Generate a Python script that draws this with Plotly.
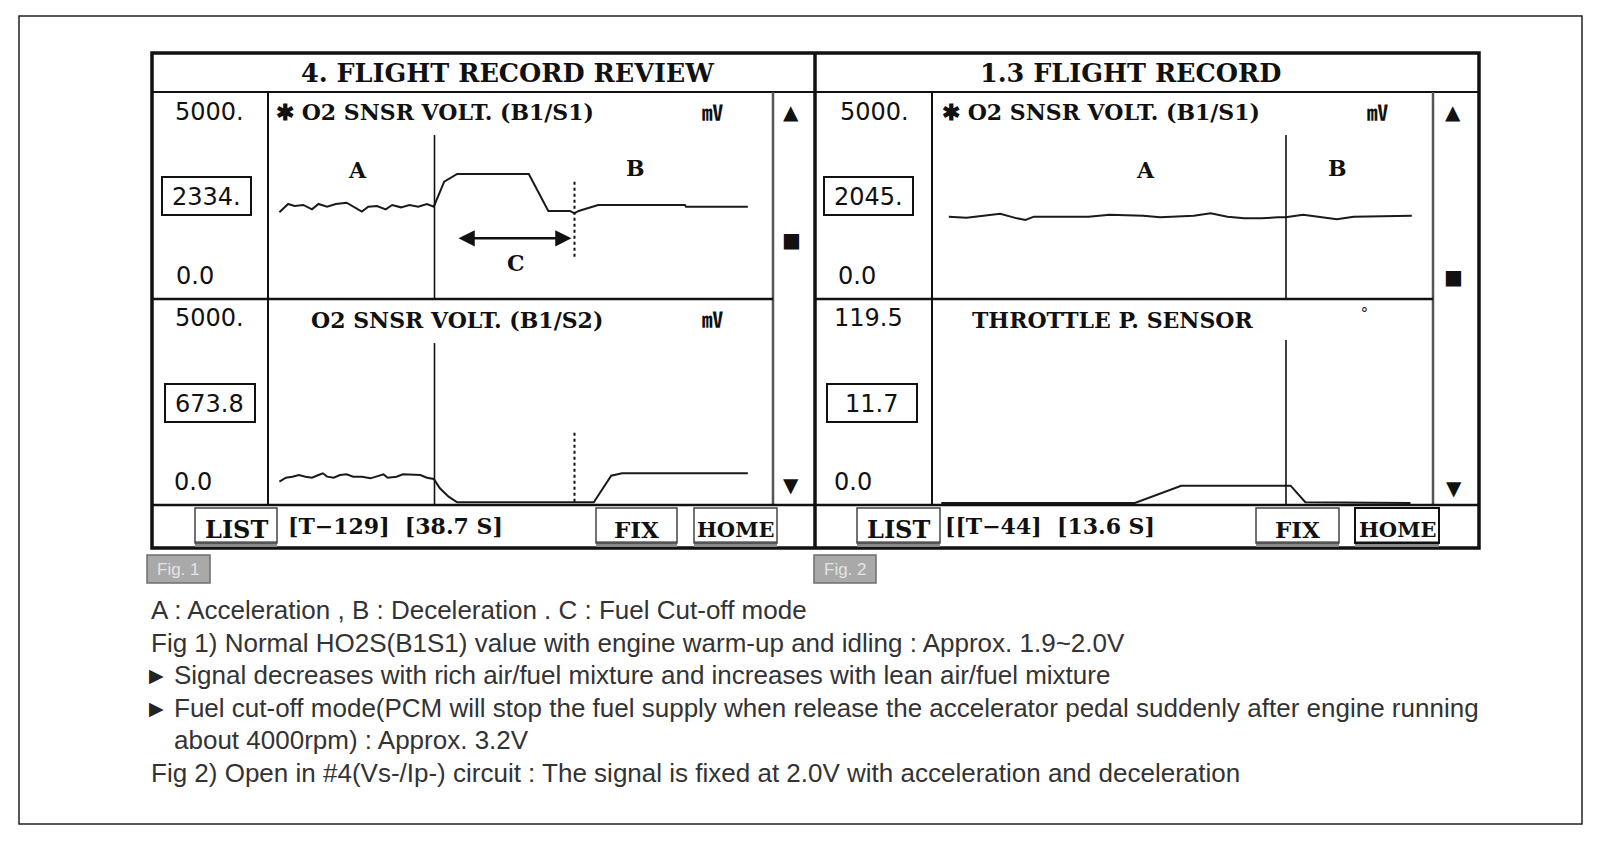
import plotly.graph_objects as go

# page geometry (body has an 8px default margin, so the paper is offset by 8px)
OFF = 8
FW, FH = 1584, 825

# ---------------- data (time in s, values in mV / deg) ----------------
fig1_s1_t = [1.14, 2.01, 2.66, 3.53, 4.40, 5.05, 5.91, 6.78, 7.86, 8.52, 9.38, 10.03, 10.90, 11.77,
             12.42, 13.29, 14.15, 15.02, 15.89, 16.58, 17.62, 18.92, 26.08, 28.03, 30.20, 30.63,
             31.06, 33.02, 41.69, 41.80, 47.98]
fig1_s1_v = [2094, 2295, 2246, 2271, 2166, 2295, 2230, 2295, 2327, 2230, 2110, 2230, 2246, 2166,
             2271, 2214, 2271, 2230, 2295, 2230, 2834, 3019, 3019, 2126, 2126, 2069,
             2126, 2271, 2271, 2230, 2230]

fig1_s2_t = [1.14, 1.79, 2.44, 3.09, 3.75, 4.40, 5.05, 5.48, 5.91, 6.56, 7.21, 7.86, 8.52, 9.38,
             10.25, 10.90, 11.55, 11.98, 12.85, 13.50, 14.37, 15.24, 15.89, 16.58, 17.19, 18.06,
             18.92, 32.58, 34.32, 35.40, 47.98]
fig1_s2_v = [566, 663, 688, 728, 688, 663, 728, 769, 688, 663, 728, 744, 688, 688,
             647, 688, 744, 663, 688, 744, 728, 728, 663, 631, 405, 202,
             65, 65, 712, 769, 769]

fig2_s1_t = [1.68, 3.45, 5.14, 6.82, 8.50, 9.34, 10.19, 11.87, 13.55, 15.66, 17.76, 19.44, 21.13,
             22.81, 24.50, 26.18, 27.86, 29.55, 31.23, 32.91, 34.60, 35.35, 37.12, 38.80, 40.49,
             42.17, 44.70, 47.98]
fig2_s1_v = [1989, 1965, 2013, 2061, 1948, 1908, 1989, 1989, 1997, 1989, 2037, 2029, 2013,
             1973, 1989, 2013, 2069, 1989, 1948, 1948, 1973, 1973, 2037, 1989, 1924,
             1989, 2005, 2013]

fig2_tps_t = [0.93, 20.29, 24.92, 35.86, 37.33, 47.85]
fig2_tps_v = [1.2, 1.2, 11.2, 11.2, 1.6, 1.2]

fig1_cursor_t = 16.65
fig1_fuelcut_end_t = 30.65
fig2_cursor_t = 35.4

fig1_values = ["2334.", "673.8"]
fig2_values = ["2045.", "11.7"]
fig1_status = "[T\u2212129]  [38.7 S]"
fig2_status = "[[T\u221244]  [13.6 S]"

notes = [
    "A : Acceleration , B : Deceleration . C : Fuel Cut-off mode",
    "Fig 1) Normal HO2S(B1S1) value with engine warm-up and idling : Approx. 1.9~2.0V",
    "Signal decreases with rich air/fuel mixture and increases with lean air/fuel mixture",
    "Fuel cut-off mode(PCM will stop the fuel supply when release the accelerator pedal suddenly after engine running",
    "about 4000rpm) : Approx. 3.2V",
    "Fig 2) Open in #4(Vs-/Ip-) circuit : The signal is fixed at 2.0V with acceleration and deceleration",
]

# ---------------- helpers (page pixel -> paper) ----------------
def X(p):
    return (p - OFF) / FW

def Y(p):
    return 1 - (p - OFF) / FH

shapes = []
annotations = []

def rect(x0, y0, x1, y1, color="#111", width=2, fill=None):
    shapes.append(dict(type="rect", xref="paper", yref="paper", x0=X(x0), x1=X(x1), y0=Y(y1), y1=Y(y0),
                       line=dict(color=color, width=width), fillcolor=fill, layer="above"))

def hline(x0, x1, y, color="#111", width=2):
    shapes.append(dict(type="line", xref="paper", yref="paper", x0=X(x0), x1=X(x1), y0=Y(y), y1=Y(y),
                       line=dict(color=color, width=width), layer="above"))

def vline(x, y0, y1, color="#111", width=2):
    shapes.append(dict(type="line", xref="paper", yref="paper", x0=X(x), x1=X(x), y0=Y(y0), y1=Y(y1),
                       line=dict(color=color, width=width), layer="above"))

def txt(x, y, s, size, family="DejaVu Serif", color="#111", xanchor="center", yanchor="middle"):
    annotations.append(dict(x=X(x), y=Y(y), xref="paper", yref="paper", text=s, showarrow=False,
                            font=dict(size=size, family=family, color=color),
                            xanchor=xanchor, yanchor=yanchor))

SLAB = "DejaVu Serif"
SANS = "Liberation Sans"
NUM = "DejaVu Sans"
SYM = "DejaVu Sans"
CJK = "Noto Sans CJK KR"

# ---------------- figure / axes ----------------
fig = go.Figure()
LINE = dict(color="#1a1a1a", width=2)
fig.add_trace(go.Scatter(x=fig1_s1_t, y=fig1_s1_v, mode="lines", line=LINE, xaxis="x", yaxis="y"))
fig.add_trace(go.Scatter(x=fig1_s2_t, y=fig1_s2_v, mode="lines", line=LINE, xaxis="x2", yaxis="y2"))
fig.add_trace(go.Scatter(x=fig2_s1_t, y=fig2_s1_v, mode="lines", line=LINE, xaxis="x3", yaxis="y3"))
fig.add_trace(go.Scatter(x=fig2_tps_t, y=fig2_tps_v, mode="lines", line=LINE, xaxis="x4", yaxis="y4"))

P1 = dict(l=152, r=815, val=268, plot=773)
P2 = dict(l=815, r=1479, val=932, plot=1433)
TOP, TITLE_B, MID, BTN_T, BOT = 53, 92, 299, 505, 548

ax_common = dict(visible=False, showgrid=False, zeroline=False, fixedrange=True)
up_dom = [Y(MID), Y(TITLE_B)]
lo_dom = [Y(BTN_T), Y(MID)]
p1_dom = [X(P1["val"]), X(P1["plot"])]
p2_dom = [X(P2["val"]), X(P2["plot"])]

fig.update_layout(
    xaxis=dict(domain=p1_dom, range=[0, 50.5], anchor="y", **ax_common),
    yaxis=dict(domain=up_dom, range=[0, 5000], anchor="x", **ax_common),
    xaxis2=dict(domain=p1_dom, range=[0, 50.5], anchor="y2", **ax_common),
    yaxis2=dict(domain=lo_dom, range=[0, 5000], anchor="x2", **ax_common),
    xaxis3=dict(domain=p2_dom, range=[0, 50.1], anchor="y3", **ax_common),
    yaxis3=dict(domain=up_dom, range=[0, 5000], anchor="x3", **ax_common),
    xaxis4=dict(domain=p2_dom, range=[0, 50.1], anchor="y4", **ax_common),
    yaxis4=dict(domain=lo_dom, range=[0, 119.5], anchor="x4", **ax_common),
)

# ---------------- outer frame ----------------
rect(19, 16, 1582, 824, color="#222", width=1.5)

# ---------------- panel frames ----------------
for P in (P1, P2):
    hline(P["l"], P["r"], TITLE_B, width=2)
    vline(P["val"], TITLE_B, BTN_T, width=2)
    vline(P["plot"], TITLE_B, BTN_T, color="#555", width=2.5)
    hline(P["l"], P["plot"], MID, width=2.5)
    hline(P["l"], P["r"], BTN_T, width=2.5)
rect(P1["l"], TOP, P2["r"], BOT, color="#111", width=3.5)
vline(815, TOP, BOT, width=3.5)

# titles
txt(507, 73, "<b>4. FLIGHT RECORD REVIEW</b>", 25.5, SLAB)
txt(1130, 73, "<b>1.3 FLIGHT RECORD</b>", 25.5, SLAB)

# value column texts
def value_col(top_lbl, box_lbl, y_top, y_box, y_zero, box_x0, box_x1, zero_x, top_x):
    txt(top_x, y_top, top_lbl, 24, NUM)
    rect(box_x0, y_box - 19, box_x1, y_box + 19, color="#111", width=2, fill="white")
    txt((box_x0 + box_x1) / 2, y_box + 1, box_lbl, 24, NUM)
    txt(zero_x, y_zero, "0.0", 24, NUM)

value_col("5000.", fig1_values[0], 112, 196, 276, 162, 251, 195, 209)
value_col("5000.", fig1_values[1], 318, 403, 482, 165, 255, 193, 209)
value_col("5000.", fig2_values[0], 112, 196, 276, 824, 913, 857, 874)
value_col("119.5", fig2_values[1], 318, 403, 482, 827, 917, 853, 868)

# chart titles
txt(274, 112, "<b>\u2731 O2 SNSR VOLT. (B1/S1)</b>", 22, SLAB, xanchor="left")
txt(712, 111, "<b>\u33b7</b>", 21, CJK)
txt(309, 320, "<b>O2 SNSR VOLT. (B1/S2)</b>", 22, SLAB, xanchor="left")
txt(712, 318, "<b>\u33b7</b>", 21, CJK)
txt(940, 112, "<b>\u2731 O2 SNSR VOLT. (B1/S1)</b>", 22, SLAB, xanchor="left")
txt(1377, 111, "<b>\u33b7</b>", 21, CJK)
txt(970, 320, "<b>THROTTLE P. SENSOR</b>", 22, SLAB, xanchor="left")
txt(1364, 314, "\u00b0", 17, SANS)

# scroll column symbols
txt(791, 112, "\u25b2", 20, SYM)
txt(791, 240, "\u25a0", 20, SYM)
txt(791, 485, "\u25bc", 20, SYM)
txt(1453, 112, "\u25b2", 20, SYM)
txt(1453, 277, "\u25a0", 20, SYM)
txt(1454, 488, "\u25bc", 20, SYM)

# buttons
def button(x0, x1, label, size=23, dark=False):
    shapes.append(dict(type="rect", xref="paper", yref="paper", x0=X(x0), x1=X(x1), y0=Y(547), y1=Y(541),
                       line=dict(width=0), fillcolor="#8a8a8a", layer="above"))
    rect(x0, 508, x1, 543, color="#111" if dark else "#444", width=2 if dark else 1.5)
    txt((x0 + x1) / 2, 529, "<b>%s</b>" % label, size, SLAB)

button(195, 277, "LIST", 24)
button(596, 677, "FIX", 23)
button(694, 777, "HOME", 21)
button(857, 940, "LIST", 24)
button(1256, 1339, "FIX", 23)
button(1355, 1439, "HOME", 21, dark=True)
txt(286, 526, "<b>%s</b>" % fig1_status, 22, SLAB, xanchor="left")
txt(943, 526, "<b>%s</b>" % fig2_status, 22, SLAB, xanchor="left")

# fig labels
for x0, x1, lab in ((147, 210, "Fig. 1"), (814, 876, "Fig. 2")):
    rect(x0, 555, x1, 583, color="#6e6e6e", width=1.5, fill="#a9a9a9")
    txt((x0 + x1) / 2, 569, lab, 17, SANS, color="#e4e4e4")

# ---------------- cursors & markers in data coords ----------------
def dline(xr, yr, x, y0, y1, dash="solid", width=1.6):
    shapes.append(dict(type="line", xref=xr, yref=yr, x0=x, x1=x, y0=y0, y1=y1,
                       line=dict(color="#111", width=width, dash=dash)))

dline("x", "y", fig1_cursor_t, 0, 3960)
dline("x2", "y2", fig1_cursor_t, 0, 3930)
dline("x3", "y3", fig2_cursor_t, 0, 3960)
dline("x4", "y4", fig2_cursor_t, 0, 95.7)
dline("x", "y", fig1_fuelcut_end_t, 1020, 2840, dash="dot", width=2)
dline("x2", "y2", fig1_fuelcut_end_t, 80, 1780, dash="dot", width=2)

# arrow C
annotations.append(dict(x=fig1_fuelcut_end_t - 0.3, y=1466, ax=18.9, ay=1466, xref="x", yref="y",
                        axref="x", ayref="y", text="", showarrow=True, arrowhead=2, startarrowhead=2,
                        arrowside="end+start", arrowsize=1.3, startarrowsize=1.3, arrowwidth=2.5,
                        arrowcolor="#111"))

def dtxt(xr, yr, x, y, s):
    annotations.append(dict(x=x, y=y, xref=xr, yref=yr, text="<b>%s</b>" % s, showarrow=False,
                            font=dict(size=22, family=SLAB, color="#111")))

dtxt("x", "y", 8.95, 3116, "A")
dtxt("x", "y", 36.7, 3164, "B")
dtxt("x", "y", 24.8, 862, "C")
dtxt("x3", "y3", 21.3, 3116, "A")
dtxt("x3", "y3", 40.5, 3164, "B")

# ---------------- notes ----------------
NOTE_Y = [610, 642.5, 675, 707.5, 740, 772.5]
NOTE_C = "#333"
NS = 26
txt(149, NOTE_Y[0], notes[0], NS, SANS, color=NOTE_C, xanchor="left")
txt(149, NOTE_Y[1], notes[1], NS, SANS, color=NOTE_C, xanchor="left")
txt(147, NOTE_Y[2], "\u25b6", 19, SYM, color="#222", xanchor="left")
txt(172, NOTE_Y[2], notes[2], NS, SANS, color=NOTE_C, xanchor="left")
txt(147, NOTE_Y[3], "\u25b6", 19, SYM, color="#222", xanchor="left")
txt(172, NOTE_Y[3], notes[3], NS, SANS, color=NOTE_C, xanchor="left")
txt(172, NOTE_Y[4], notes[4], NS, SANS, color=NOTE_C, xanchor="left")
txt(149, NOTE_Y[5], notes[5], NS, SANS, color=NOTE_C, xanchor="left")

fig.update_layout(
    width=FW, height=FH, margin=dict(l=0, r=0, t=0, b=0),
    paper_bgcolor="white", plot_bgcolor="rgba(0,0,0,0)",
    showlegend=False, shapes=shapes, annotations=annotations,
)

fig.write_html("out.html", config={"displayModeBar": False})
